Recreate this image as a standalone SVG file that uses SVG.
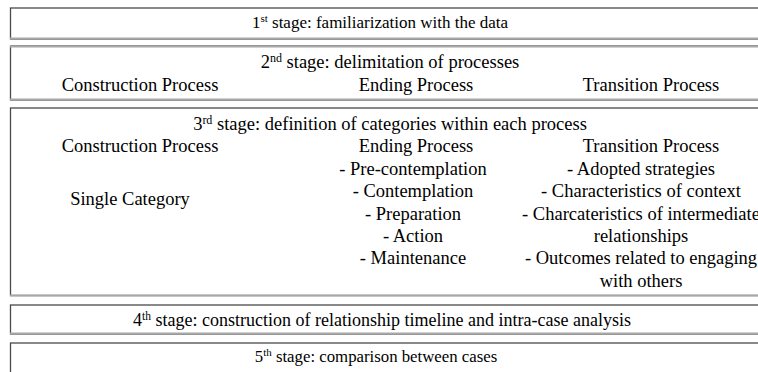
<svg xmlns="http://www.w3.org/2000/svg" width="758" height="372" viewBox="0 0 758 372">
<style>
.box{fill:#fff;stroke:#4a4a4a;stroke-width:1.3}
.shade{stroke:#a8a8a8;stroke-width:2;fill:none}
.t{font-size:18.5px;fill:#000;text-anchor:middle}
.sup{font-size:12px}
</style>
<rect width="758" height="372" fill="#fff"/>
<g id="stage1">
<rect class="box" x="10.5" y="8" width="770" height="31"/>
<line class="shade" x1="10" y1="38.5" x2="760" y2="38.5"/>
<text class="t" font-family="Liberation Serif" style="font-size:17px" x="380" y="28">1<tspan class="sup" style="font-size:11px" dy="-6">st</tspan><tspan dy="6"> stage: familiarization with the data</tspan></text>
</g>
<g id="stage2">
<rect class="box" x="10.5" y="46" width="770" height="54"/>
<line class="shade" x1="10" y1="46.5" x2="760" y2="46.5"/>
<line class="shade" x1="10" y1="99.5" x2="760" y2="99.5"/>
<text class="t" font-family="Liberation Serif" x="390" y="68">2<tspan class="sup" dy="-6">nd</tspan><tspan dy="6"> stage: delimitation of processes</tspan></text>
<text class="t" font-family="Liberation Serif" x="140" y="91">Construction Process</text>
<text class="t" font-family="Liberation Serif" x="416" y="91">Ending Process</text>
<text class="t" font-family="Liberation Serif" x="651" y="91">Transition Process</text>
</g>
<g id="stage3">
<rect class="box" x="10.5" y="108" width="770" height="187.5"/>
<line class="shade" x1="10" y1="295.5" x2="760" y2="295.5"/>
<text class="t" font-family="Liberation Serif" x="390" y="130">3<tspan class="sup" dy="-6">rd</tspan><tspan dy="6"> stage: definition of categories within each process</tspan></text>
<text class="t" font-family="Liberation Serif" x="140" y="152">Construction Process</text>
<text class="t" font-family="Liberation Serif" x="130" y="205">Single Category</text>
<text class="t" font-family="Liberation Serif" x="416" y="152">Ending Process</text>
<text class="t" font-family="Liberation Serif" x="413" y="175">- Pre-contemplation</text>
<text class="t" font-family="Liberation Serif" x="413" y="197">- Contemplation</text>
<text class="t" font-family="Liberation Serif" x="413" y="220">- Preparation</text>
<text class="t" font-family="Liberation Serif" x="413" y="242">- Action</text>
<text class="t" font-family="Liberation Serif" x="413" y="264">- Maintenance</text>
<text class="t" font-family="Liberation Serif" x="651" y="152">Transition Process</text>
<text class="t" font-family="Liberation Serif" x="641" y="175">- Adopted strategies</text>
<text class="t" font-family="Liberation Serif" x="641" y="197">- Characteristics of context</text>
<text class="t" font-family="Liberation Serif" x="641" y="220">- Charcateristics of intermediate</text>
<text class="t" font-family="Liberation Serif" x="641" y="242">relationships</text>
<text class="t" font-family="Liberation Serif" x="641" y="264">- Outcomes related to engaging</text>
<text class="t" font-family="Liberation Serif" x="641" y="287">with others</text>
</g>
<g id="stage4">
<rect class="box" x="10.5" y="305" width="770" height="29"/>
<line class="shade" x1="10" y1="333.5" x2="760" y2="333.5"/>
<text class="t" font-family="Liberation Serif" style="font-size:18px" x="382" y="326">4<tspan class="sup" style="font-size:11.5px" dy="-6">th</tspan><tspan dy="6"> stage: construction of relationship timeline and intra-case analysis</tspan></text>
</g>
<g id="stage5">
<rect class="box" x="10.5" y="343" width="770" height="40"/>
<text class="t" font-family="Liberation Serif" style="font-size:16.8px" x="376" y="362">5<tspan class="sup" style="font-size:11px" dy="-6">th</tspan><tspan dy="6"> stage: comparison between cases</tspan></text>
</g>
<g id="connectors"></g>
</svg>
